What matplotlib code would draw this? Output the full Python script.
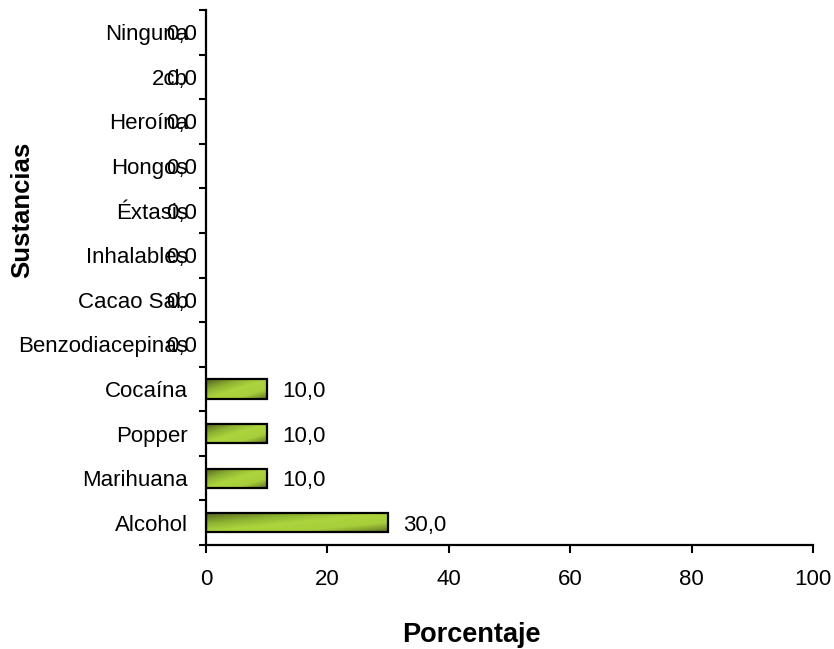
import numpy as np
import matplotlib
matplotlib.use("Agg")
import matplotlib.pyplot as plt
from matplotlib.colors import LinearSegmentedColormap
from matplotlib.patches import Rectangle

# Sustancias consumidas (porcentaje), de abajo hacia arriba
sustancias = ["Alcohol", "Marihuana", "Popper", "Cocaína", "Benzodiacepinas",
              "Cacao Sab", "Inhalables", "Éxtasis", "Hongos", "Heroína",
              "2cb", "Ninguna"]
porcentajes = [30.0, 10.0, 10.0, 10.0, 0.0, 0.0, 0.0, 0.0, 0.0, 0.0, 0.0, 0.0]
x_ticks = [0, 20, 40, 60, 80, 100]

plt.rcParams["font.family"] = ["Liberation Sans", "DejaVu Sans"]
FS = 16

W, H, DPI = 834, 649, 100
fig = plt.figure(figsize=(W / DPI, H / DPI), dpi=DPI)
ax = fig.add_axes([206 / W, 104 / H, (813 - 206) / W, (545 - 10) / H])

bar_h = 0.43
y = np.arange(len(sustancias))
ax.set_xlim(0, 100)
ax.set_ylim(-0.5, len(sustancias) - 0.5)

# diagonal gradient: olive at the top-left and bottom-right corners, bright green between
cmap = LinearSegmentedColormap.from_list(
    "verde", [(0.0, "#55601f"), (0.3, "#8eb532"), (0.5, "#acd43d"),
              (0.75, "#a8cf3b"), (0.9, "#7f9a2e"), (1.0, "#5d6a24")])
for yi, v in zip(y, porcentajes):
    if v <= 0:
        continue
    U, Wv = np.meshgrid(np.linspace(0, 1, 200), np.linspace(0, 1, 30))
    grad = (U + (1 - Wv)) / 2.0
    im = ax.imshow(grad, cmap=cmap, vmin=0, vmax=1, aspect="auto",
                   extent=(0, v, yi - bar_h / 2, yi + bar_h / 2),
                   origin="lower", interpolation="bilinear", zorder=2)
    rect = Rectangle((0, yi - bar_h / 2), v, bar_h, facecolor="none",
                     edgecolor="black", linewidth=1.6, zorder=3)
    ax.add_patch(rect)
    im.set_clip_path(rect)

# value labels
for yi, v in zip(y, porcentajes):
    label = f"{v:.1f}".replace(".", ",")
    if v > 0:
        ax.annotate(label, xy=(v, yi), xytext=(11, 0), textcoords="offset points",
                    ha="left", va="center_baseline", fontsize=FS, zorder=4)
    else:
        ax.annotate(label, xy=(0, yi), xytext=(-6.5, 0), textcoords="offset points",
                    ha="right", va="center_baseline", fontsize=FS, zorder=4)

ax.set_yticks(y)
ax.set_yticklabels(sustancias, fontsize=FS)
ax.set_yticks(np.arange(len(sustancias) + 1) - 0.5, minor=True)
ax.tick_params(axis="y", which="major", length=0, pad=13)
ax.tick_params(axis="y", which="minor", length=5, width=1.5, direction="out")
ax.set_xticks(x_ticks)
ax.set_xticklabels([str(t) for t in x_ticks], fontsize=FS)
ax.tick_params(axis="x", length=6, width=1.5, direction="out", pad=11)

for side in ("top", "right"):
    ax.spines[side].set_visible(False)
for side in ("left", "bottom"):
    ax.spines[side].set_linewidth(1.6)

fig.text(471 / W, 1 - 635 / H, "Porcentaje", ha="center", va="center",
         fontsize=19.5, fontweight="bold")
fig.text(22 / W, 1 - 210 / H, "Sustancias", ha="center", va="center",
         rotation=90, fontsize=18.5, fontweight="bold")

fig.savefig("out.png", dpi=DPI)
